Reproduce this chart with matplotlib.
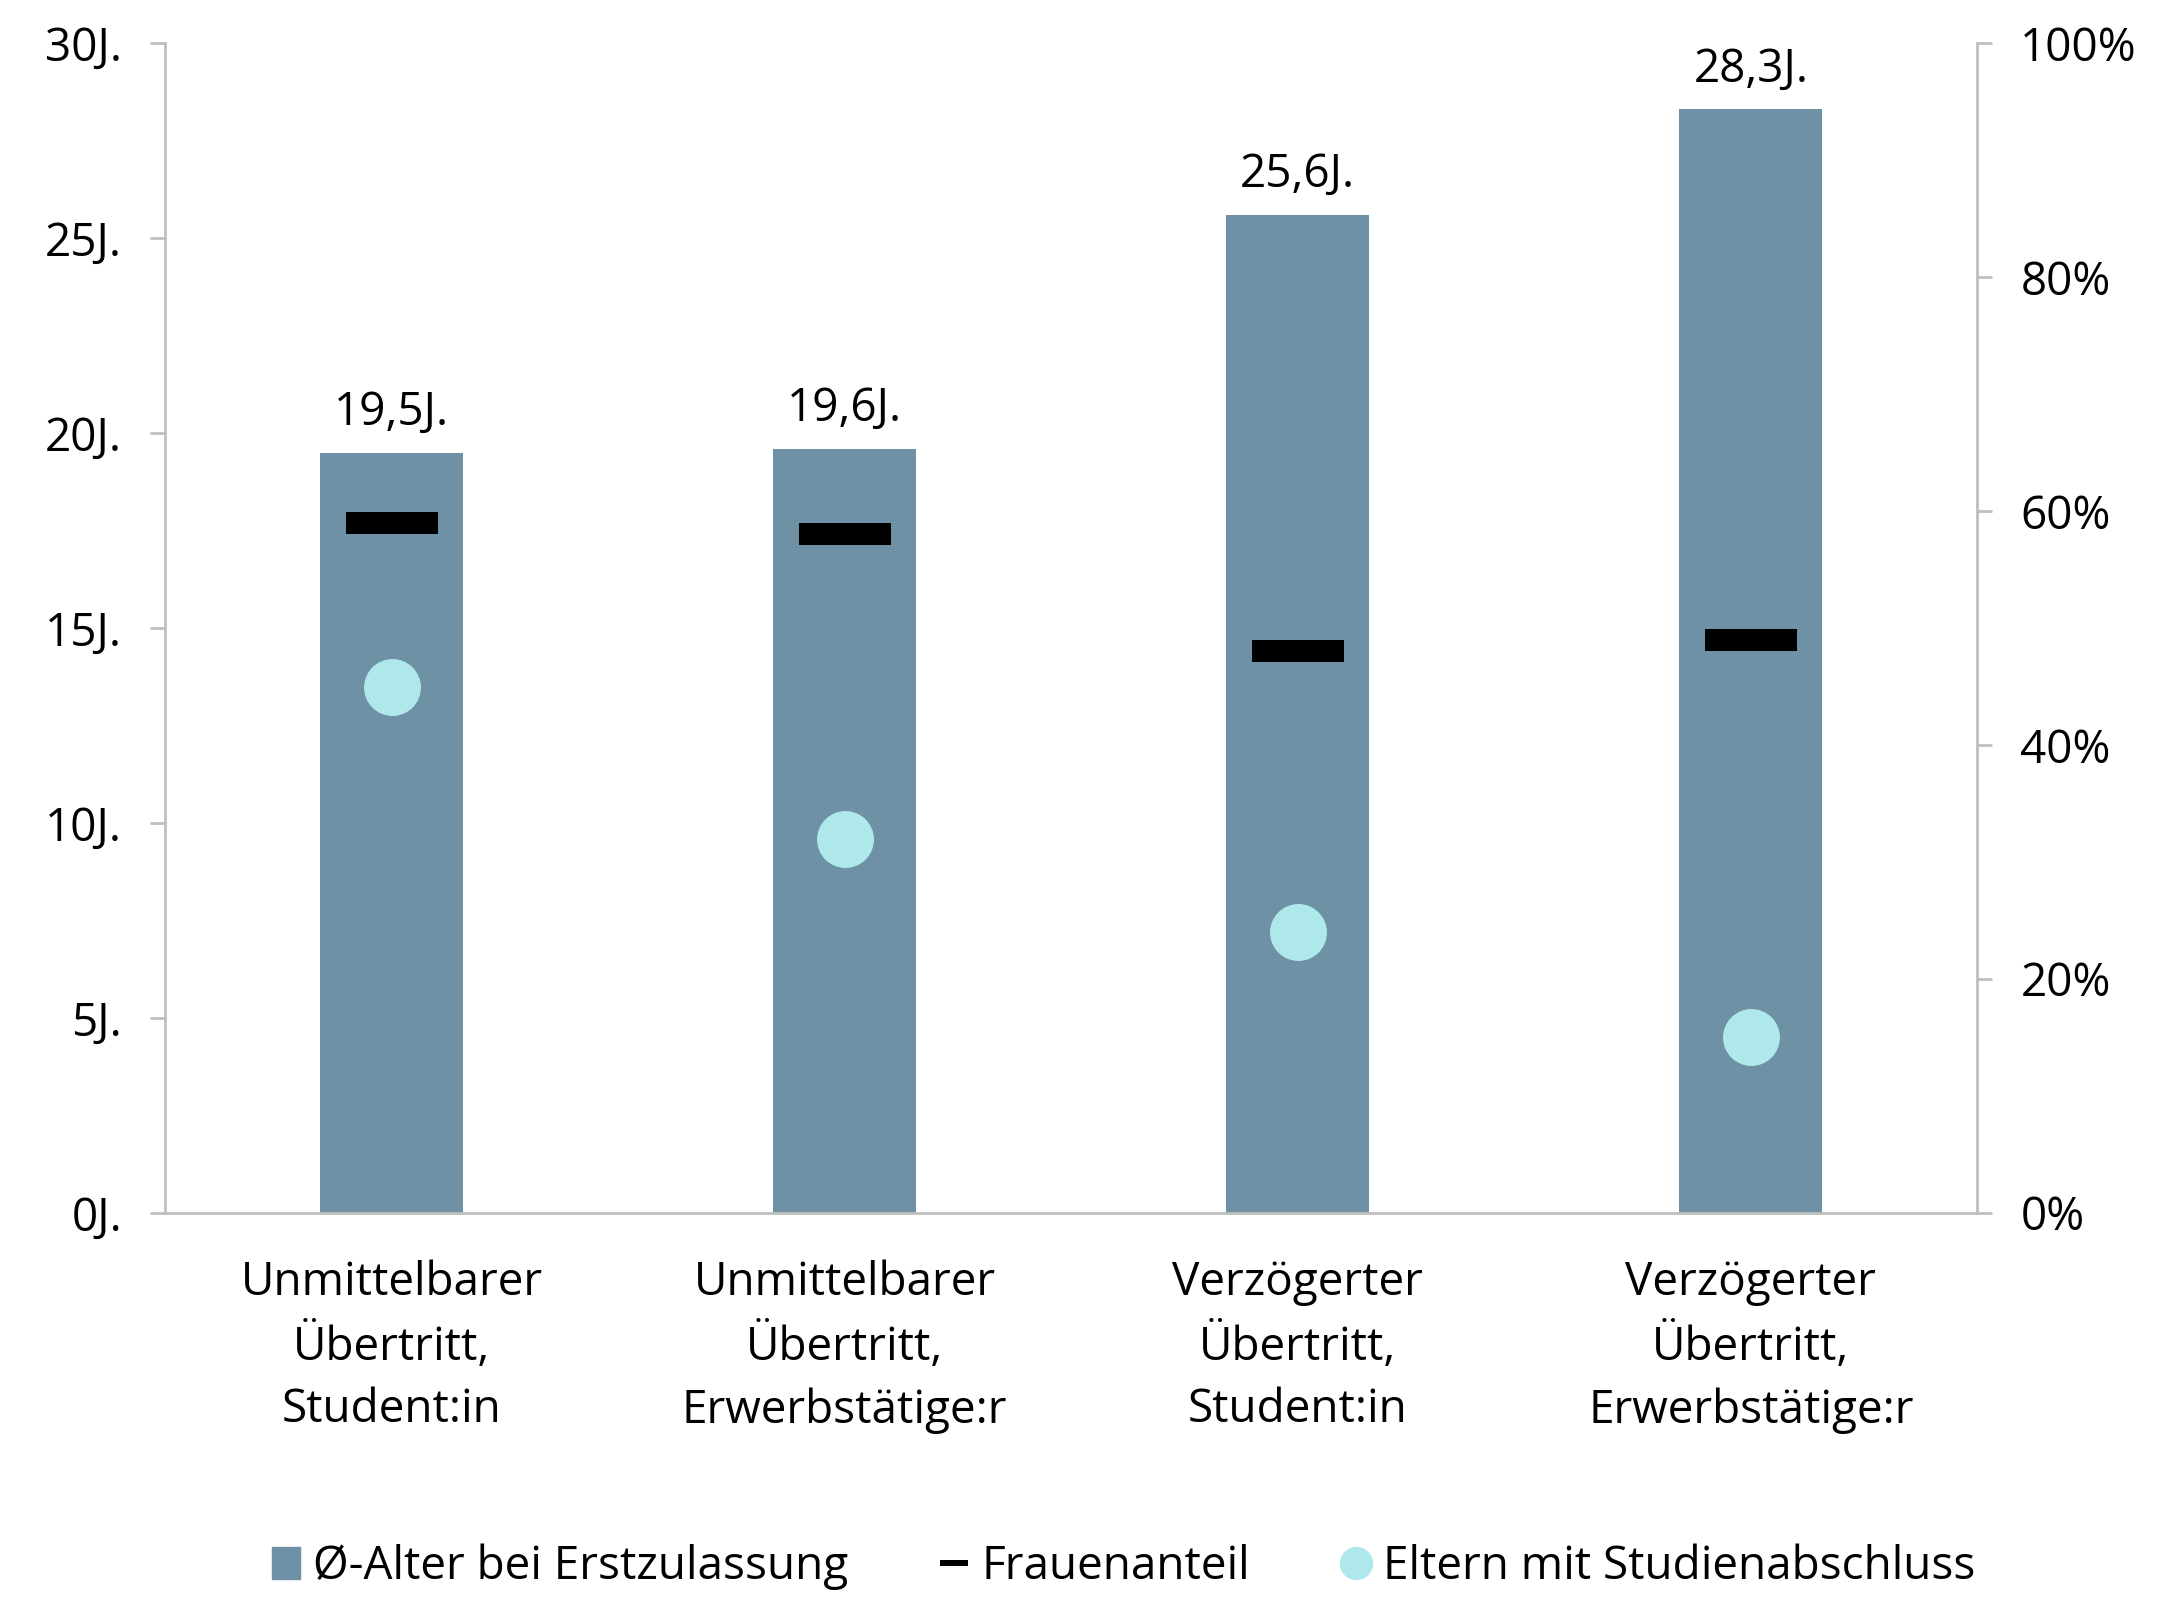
import matplotlib
matplotlib.use("Agg")
import matplotlib.pyplot as plt
from matplotlib.lines import Line2D
from matplotlib.patches import Patch

plt.rcParams['font.family'] = ['Open Sans', 'DejaVu Sans']

categories = ["Unmittelbarer\nÜbertritt,\nStudent:in",
              "Unmittelbarer\nÜbertritt,\nErwerbstätige:r",
              "Verzögerter\nÜbertritt,\nStudent:in",
              "Verzögerter\nÜbertritt,\nErwerbstätige:r"]
alter = [19.5, 19.6, 25.6, 28.3]
frauenanteil = [0.59, 0.58, 0.48, 0.49]
eltern_studium = [0.45, 0.32, 0.24, 0.15]

left_ticks = [0, 5, 10, 15, 20, 25, 30]
right_ticks = [0, 0.2, 0.4, 0.6, 0.8, 1.0]

bar_color = "#6F91A5"
dot_color = "#AEE8EA"
axis_color = "#BFBFBF"
fs = 33

fig = plt.figure(figsize=(21.61, 15.97), dpi=100)
ax = fig.add_axes([0.0764, 0.2405, 0.8386, 0.7325])
ax2 = ax.twinx()

x = range(len(categories))
ax.bar(x, alter, width=0.316, color=bar_color, zorder=2)
for xi, v in zip(x, alter):
    ax.annotate(f"{v:.1f}".replace(".", ",") + "J.", (xi, v),
                xytext=(0, 12), textcoords="offset points",
                ha="center", va="bottom", fontsize=fs)

# wide flat rectangle marker for the women share
dash = [(-4.2, -1), (4.2, -1), (4.2, 1), (-4.2, 1), (-4.2, -1)]
ax2.plot(x, frauenanteil, linestyle="none", marker=dash, markersize=66,
         color="black", markeredgewidth=0, zorder=3)
ax2.plot(x, eltern_studium, linestyle="none", marker="o", markersize=41,
         color=dot_color, markeredgewidth=0, zorder=3)

ax.set_xlim(-0.5, len(categories) - 0.5)
ax.set_ylim(0, 30)
ax2.set_ylim(0, 1)
ax.set_yticks(left_ticks)
ax.set_yticklabels([f"{t}J." for t in left_ticks])
ax2.set_yticks(right_ticks)
ax2.set_yticklabels([f"{int(round(t * 100))}%" for t in right_ticks])
ax.set_xticks(list(x))
ax.set_xticklabels(categories, linespacing=1.46)

for a in (ax, ax2):
    a.spines["top"].set_visible(False)
    for s in ("left", "right", "bottom"):
        a.spines[s].set_color(axis_color)
        a.spines[s].set_linewidth(2)
ax.spines["right"].set_visible(False)
ax2.spines["left"].set_visible(False)
ax2.spines["bottom"].set_visible(False)

ax.tick_params(axis="y", length=11, width=2, color=axis_color,
               labelsize=fs, pad=20)
ax2.tick_params(axis="y", length=11, width=2, color=axis_color,
                labelsize=fs, pad=20)
ax.tick_params(axis="x", length=0, labelsize=fs, pad=34)

handles = [Patch(color=bar_color),
           Line2D([], [], linestyle="none", marker=dash, markersize=20,
                  color="black", markeredgewidth=0),
           Line2D([], [], linestyle="none", marker="o", markersize=24,
                  color=dot_color, markeredgewidth=0)]
labels = ["Ø-Alter bei Erstzulassung", "Frauenanteil", "Eltern mit Studienabschluss"]
fig.legend(handles, labels, loc="center", bbox_to_anchor=(0.52, 0.019),
           ncol=3, frameon=False, fontsize=fs, handlelength=0.6,
           handletextpad=0.3, columnspacing=2.0)

fig.savefig("out.png", dpi=100)
